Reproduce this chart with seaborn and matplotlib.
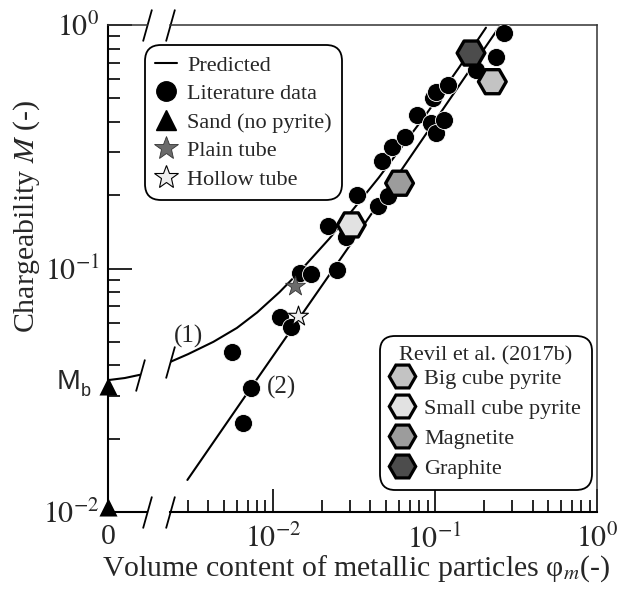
import matplotlib
matplotlib.use("Agg")
import matplotlib.pyplot as plt
from matplotlib.lines import Line2D
from matplotlib.ticker import FixedLocator, FixedFormatter, LogLocator, NullFormatter
import pandas as pd
import seaborn as sns

# ---------------- data ----------------
# literature data: volume content of metallic particles and chargeability
lit_phi = [0.00557, 0.00652, 0.00729, 0.0110, 0.0130, 0.0147, 0.0171, 0.0219,
           0.0248, 0.0284, 0.0330, 0.0445, 0.0470, 0.0515, 0.0545, 0.0650,
           0.0780, 0.0944, 0.0970, 0.1016, 0.1016, 0.114, 0.120, 0.179,
           0.238, 0.268]
lit_M = [0.0455, 0.0233, 0.0322, 0.0630, 0.0574, 0.0956, 0.0950, 0.150,
         0.0990, 0.135, 0.201, 0.181, 0.277, 0.198, 0.316, 0.348,
         0.427, 0.395, 0.500, 0.532, 0.359, 0.408, 0.567, 0.653,
         0.736, 0.925]

# sand without pyrite (phi = 0)
sand_phi = [0.0, 0.0]
sand_M = [0.033, 0.0105]

# tubes
plain_phi = [0.01365]
plain_M = [0.0848]
hollow_phi = [0.0143]
hollow_M = [0.0638]

# Revil et al. (2017b)
revil_names = ["Big cube pyrite", "Small cube pyrite", "Magnetite", "Graphite"]
revil_phi = [0.226, 0.0305, 0.0605, 0.167]
revil_M = [0.585, 0.151, 0.224, 0.767]
revil_fill = ["#c3c3c3", "#e2e2e2", "#9c9c9c", "#4c4c4c"]

# predicted curves: (1) with background chargeability Mb, (2) without
pred1_phi_near0 = [0.0, 0.0005, 0.00095]
pred1_M_near0 = [0.0348, 0.0355, 0.0366]
pred1_phi = [0.00232, 0.0030, 0.0043, 0.0060, 0.0080, 0.0110, 0.0147,
             0.0224, 0.0298, 0.045, 0.0883, 0.140, 0.2065]
pred1_M = [0.0413, 0.0445, 0.0500, 0.0570, 0.0660, 0.0800, 0.0975,
           0.133, 0.168, 0.236, 0.430, 0.665, 0.975]
pred2_phi = [0.00297, 0.00729, 0.0305, 0.254]
pred2_M = [0.01354, 0.0322, 0.127, 1.0]

y_ticks = [0.01, 0.1, 1.0]
y_ticklabels = [r"$10^{-2}$", r"$10^{-1}$", r"$10^{0}$"]
x_ticks = [0.01, 0.1, 1.0]
x_ticklabels = [r"$10^{-2}$", r"$10^{-1}$", r"$10^{0}$"]

# ---------------- style ----------------
sns.set_style("ticks")
plt.rcParams["font.family"] = ["Liberation Serif", "DejaVu Serif"]
plt.rcParams["mathtext.fontset"] = "stix"

W, H = 636, 590
fig = plt.figure(figsize=(W / 100, H / 100), dpi=100)


def frac(x0, y0, x1, y1):
    return [x0 / W, 1 - y1 / H, (x1 - x0) / W, (y1 - y0) / H]


ax_l = fig.add_axes(frac(108, 25, 147, 512))
ax_r = fig.add_axes(frac(170, 25, 597, 512), sharey=ax_l)

ax_l.set_yscale("log")
ax_l.set_ylim(0.01, 1.0)
ax_l.set_xlim(0, 0.00116)
ax_r.set_xscale("log")
ax_r.set_xlim(0.00232, 1.0)

# ---------------- predicted curves ----------------
line_kw = dict(color="black", lw=1.5, sort=False, estimator=None, zorder=2)
sns.lineplot(x=pred1_phi_near0, y=pred1_M_near0, ax=ax_l, **line_kw)
sns.lineplot(x=pred1_phi, y=pred1_M, ax=ax_r, **line_kw)
sns.lineplot(x=pred2_phi, y=pred2_M, ax=ax_r, **line_kw)

# ---------------- points ----------------
sns.scatterplot(x=sand_phi, y=sand_M, ax=ax_l, marker="^", s=13 ** 2,
                color="black", linewidth=0, clip_on=False, zorder=6)

sns.scatterplot(x=lit_phi, y=lit_M, ax=ax_r, marker="o", s=13 ** 2,
                color="black", edgecolor="white", linewidth=0.6, zorder=3)

revil_df = pd.DataFrame({"name": revil_names, "phi": revil_phi, "M": revil_M})
sns.scatterplot(data=revil_df, x="phi", y="M", hue="name",
                palette=dict(zip(revil_names, revil_fill)), marker="H",
                s=20 ** 2, edgecolor="black", linewidth=2.4, legend=False,
                ax=ax_r, zorder=4)

sns.scatterplot(x=plain_phi, y=plain_M, ax=ax_r, marker="*", s=15 ** 2,
                color="#6b6b6b", edgecolor="#333333", linewidth=0.6, zorder=5)
sns.scatterplot(x=hollow_phi, y=hollow_M, ax=ax_r, marker="*", s=15 ** 2,
                color="#eeeeee", edgecolor="black", linewidth=0.8, zorder=5)

ax_r.text(0.0030, 0.0524, "(1)", ha="center", va="center", fontsize=18)
ax_r.text(0.01136, 0.0326, "(2)", ha="center", va="center", fontsize=18)
ax_l.annotate("M", xy=(0, sand_M[0]), xytext=(-19.5, 3),
              textcoords="offset points", ha="right", va="center",
              fontsize=20.5, family="Liberation Sans")
ax_l.annotate("b", xy=(0, sand_M[0]), xytext=(-19.5, -4.5),
              textcoords="offset points", ha="left", va="center",
              fontsize=13, family="Liberation Sans")

# ---------------- axis breaks ----------------
slash = [(-0.28, -1.0), (0.28, 1.0)]
brk = dict(marker=slash, ms=23, mew=1.3, color="black", ls="none", clip_on=False)
ax_l.plot([1, 1], [0, 1], transform=ax_l.transAxes, **brk)
ax_r.plot([0, 0], [0, 1], transform=ax_r.transAxes, **brk)
ax_l.plot([pred1_phi_near0[-1]], [pred1_M_near0[-1]], **brk)
ax_r.plot([pred1_phi[0]], [pred1_M[0]], **brk)

# ---------------- ticks and spines ----------------
ax_l.yaxis.set_major_locator(FixedLocator(y_ticks))
ax_l.yaxis.set_major_formatter(FixedFormatter(y_ticklabels))
ax_l.yaxis.set_minor_locator(LogLocator(base=10, subs=range(2, 10)))
ax_l.yaxis.set_minor_formatter(NullFormatter())
ax_l.tick_params(axis="y", which="major", direction="in", length=17, width=1.2,
                 labelsize=21.5, pad=6, color="black")
ax_l.tick_params(axis="y", which="minor", direction="in", length=8.6, width=1.2,
                 color="black")
ax_l.set_xticks([0])
ax_l.set_xticklabels(["0"])
ax_l.tick_params(axis="x", length=0, labelsize=21.5, pad=9)

ax_r.tick_params(axis="y", which="both", left=False, labelleft=False)
ax_r.xaxis.set_major_locator(FixedLocator(x_ticks))
ax_r.xaxis.set_major_formatter(FixedFormatter(x_ticklabels))
ax_r.xaxis.set_minor_locator(LogLocator(base=10, subs=range(2, 10)))
ax_r.xaxis.set_minor_formatter(NullFormatter())
ax_r.tick_params(axis="x", which="major", direction="in", length=16.5, width=1.2,
                 labelsize=21.5, pad=9, color="black")
ax_r.tick_params(axis="x", which="minor", direction="in", length=8.6, width=1.2,
                 color="black")

ax_l.spines["right"].set_visible(False)
ax_r.spines["left"].set_visible(False)
for ax in (ax_l, ax_r):
    ax.set_xlabel("")
    ax.set_ylabel("")
    for side in ("left", "bottom"):
        ax.spines[side].set_linewidth(1.5)
        ax.spines[side].set_color("black")
    for side in ("top", "right"):
        ax.spines[side].set_linewidth(1.1)
        ax.spines[side].set_color("#333333")

fig.text(356 / W, 1 - 569 / H,
         r"Volume content of metallic particles φ$_{m}$(-)",
         ha="center", va="center", fontsize=21.5)
fig.text(27 / W, 1 - 216 / H, r"Chargeability $M$ (-)", rotation=90,
         ha="center", va="center", fontsize=21.5)

# ---------------- legends ----------------
h1 = [
    Line2D([], [], color="black", lw=1.5),
    Line2D([], [], marker="o", ls="none", color="black", ms=14),
    Line2D([], [], marker="^", ls="none", color="black", ms=14),
    Line2D([], [], marker="*", ls="none", mfc="#6b6b6b", mec="#333333", mew=0.6, ms=18),
    Line2D([], [], marker="*", ls="none", mfc="#eeeeee", mec="black", mew=0.8, ms=18),
]
l1 = ["Predicted", "Literature data", "Sand (no pyrite)", "Plain tube", "Hollow tube"]
leg1 = fig.legend(h1, l1, loc="upper left", bbox_to_anchor=(145 / W, 1 - 45 / H),
                  fontsize=16, frameon=True, fancybox=True, framealpha=1,
                  handlelength=1.0, handletextpad=0.45, labelspacing=0.36,
                  borderpad=0.45, borderaxespad=0)
fr = leg1.get_frame()
fr.set_edgecolor("black")
fr.set_linewidth(1.3)
fr.set_boxstyle("round,pad=0,rounding_size=0.7")

h2 = [Line2D([], [], marker="H", ls="none", mfc=c, mec="black", mew=2.3, ms=19)
      for c in revil_fill]
leg2 = fig.legend(h2, revil_names, loc="lower right",
                  bbox_to_anchor=(592 / W, 1 - 490 / H), title="Revil et al. (2017b)",
                  title_fontsize=16, fontsize=16, frameon=True, fancybox=True,
                  framealpha=1, handlelength=1.0, handletextpad=0.5,
                  labelspacing=0.42, borderpad=0.5, borderaxespad=0)
leg2._legend_box.sep = 2
fr = leg2.get_frame()
fr.set_edgecolor("black")
fr.set_linewidth(1.3)
fr.set_boxstyle("round,pad=0,rounding_size=0.7")

fig.savefig("out.png", dpi=100)
